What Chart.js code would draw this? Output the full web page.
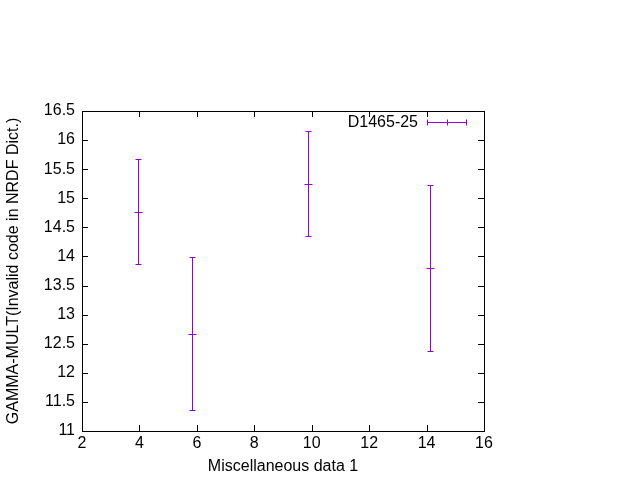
<!DOCTYPE html>
<html>
<head>
<meta charset="utf-8">
<script src="https://cdn.jsdelivr.net/npm/chart.js@4/dist/chart.umd.min.js"></script>
<style>
  html, body { margin: 0; padding: 0; background: #fff; }
  #wrap { width: 640px; height: 480px; }
</style>
</head>
<body>
<div id="wrap"><canvas id="c"></canvas></div>
<script>
// données
const xVals   = [3.94, 5.84, 9.88, 14.11];
const yVals   = [14.76, 12.66, 15.24, 13.80];
const yLow    = [13.865, 11.36, 14.35, 12.37];
const yHigh   = [15.67, 13.99, 16.15, 15.22];
const seriesName = 'D1465-25';
const COLOR = '#9400d3';
const FONT = 'Liberation Sans, Arial, sans-serif';

// barres d'erreur + ticks intérieurs + légende style gnuplot
const gnuplotLook = {
  id: 'gnuplotLook',
  afterDatasetsDraw(chart) {
    const { ctx, chartArea: a, scales: { x, y } } = chart;
    ctx.save();
    ctx.strokeStyle = COLOR;
    ctx.lineWidth = 1;
    xVals.forEach((xv, i) => {
      const px = Math.round(x.getPixelForValue(xv)) + 0.5;
      const pc = Math.round(y.getPixelForValue(yVals[i])) + 0.5;
      const pl = Math.round(y.getPixelForValue(yLow[i])) + 0.5;
      const ph = Math.round(y.getPixelForValue(yHigh[i])) + 0.5;
      ctx.beginPath();
      ctx.moveTo(px, pl); ctx.lineTo(px, ph);
      ctx.moveTo(px - 3, pl); ctx.lineTo(px + 3, pl);
      ctx.moveTo(px - 3, ph); ctx.lineTo(px + 3, ph);
      ctx.moveTo(px - 4, pc); ctx.lineTo(px + 4, pc);
      ctx.stroke();
    });

    // légende
    const ly = 122.5;
    ctx.beginPath();
    ctx.moveTo(427, ly); ctx.lineTo(467, ly);
    ctx.moveTo(427.5, ly - 3); ctx.lineTo(427.5, ly + 3);
    ctx.moveTo(466.5, ly - 3); ctx.lineTo(466.5, ly + 3);
    ctx.moveTo(447.5, ly - 3); ctx.lineTo(447.5, ly + 3);
    ctx.stroke();
    ctx.fillStyle = '#000';
    ctx.font = '16px ' + FONT;
    ctx.textAlign = 'right';
    ctx.textBaseline = 'middle';
    ctx.fillText(seriesName, 418, ly);

    // ticks intérieurs sur les 4 côtés
    ctx.strokeStyle = '#000';
    ctx.beginPath();
    x.ticks.forEach(t => {
      const px = Math.round(x.getPixelForValue(t.value)) + 0.5;
      ctx.moveTo(px, a.bottom); ctx.lineTo(px, a.bottom - 6);
      ctx.moveTo(px, a.top); ctx.lineTo(px, a.top + 6);
    });
    y.ticks.forEach(t => {
      const py = Math.round(y.getPixelForValue(t.value)) + 0.5;
      ctx.moveTo(a.left, py); ctx.lineTo(a.left + 6, py);
      ctx.moveTo(a.right, py); ctx.lineTo(a.right - 6, py);
    });
    ctx.stroke();
    ctx.strokeRect(Math.round(a.left) + 0.5, Math.round(a.top) + 0.5,
                   Math.round(a.right - a.left), Math.round(a.bottom - a.top));
    ctx.restore();
  }
};

new Chart(document.getElementById('c'), {
  type: 'scatter',
  data: {
    datasets: [{
      label: seriesName,
      data: xVals.map((v, i) => ({ x: v, y: yVals[i] })),
      pointRadius: 0,
      showLine: false,
    }]
  },
  options: {
    responsive: true,
    maintainAspectRatio: false,
    animation: false,
    layout: { padding: { top: 111, right: 156, left: 0, bottom: 0 } },
    plugins: { legend: { display: false }, tooltip: { enabled: false } },
    scales: {
      x: {
        type: 'linear', min: 2, max: 16,
        ticks: { stepSize: 2, color: '#000', font: { size: 16, family: FONT }, padding: 3, maxRotation: 0 },
        grid: { display: false, drawTicks: false },
        border: { display: false },
        title: { display: true, text: 'Miscellaneous data 1', color: '#000', font: { size: 16, family: FONT }, padding: { top: 2 } },
        afterFit: s => { s.height = 49; },
      },
      y: {
        type: 'linear', min: 11, max: 16.5,
        ticks: { stepSize: 0.5, color: '#000', font: { size: 16, family: FONT }, padding: 7,
                 callback: v => String(v) },
        grid: { display: false, drawTicks: false },
        border: { display: false },
        title: { display: true, text: 'GAMMA-MULT(Invalid code in NRDF Dict.)', color: '#000', font: { size: 16, family: FONT }, padding: { bottom: 2 } },
        afterFit: s => { s.width = 82; },
      }
    }
  },
  plugins: [gnuplotLook]
});
</script>
</body>
</html>
